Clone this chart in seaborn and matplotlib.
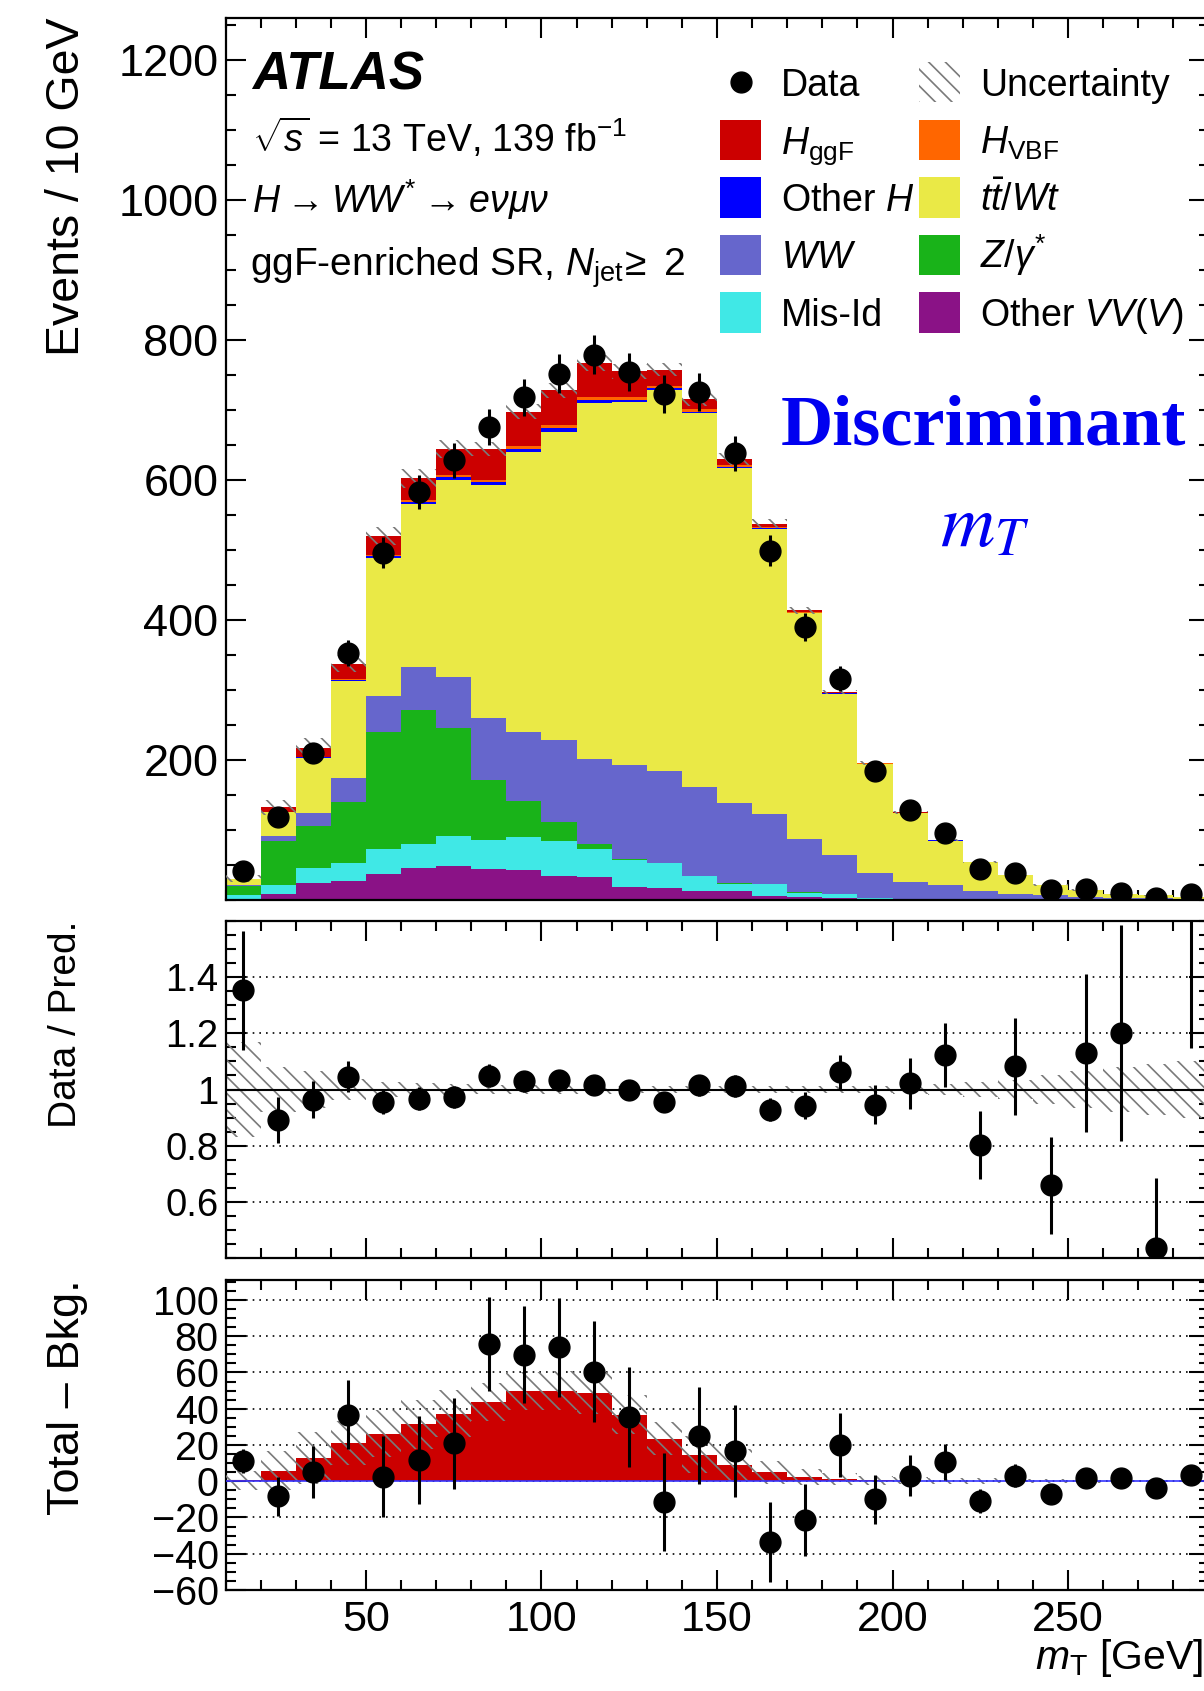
import numpy as np
import pandas as pd
import matplotlib
matplotlib.use("Agg")
import matplotlib.pyplot as plt
from matplotlib.patches import Rectangle
from matplotlib.lines import Line2D
from matplotlib.ticker import MultipleLocator, FixedLocator
import seaborn as sns

# ---------------------------------------------------------------------------
# Binning: m_T in 10 GeV bins from 10 to 290 GeV
# ---------------------------------------------------------------------------
bin_edges = list(range(10, 300, 10))
bin_centers = [e + 5 for e in bin_edges[:-1]]

# Observed events and their statistical uncertainty
data_events = [41, 118, 210, 353, 496, 583, 628, 676, 718, 752, 779, 754, 723, 726,
               638, 499, 390, 316, 185, 128, 96, 44, 39, 14, 16, 10, 3, 8]
data_stat_err = [6.4, 10.9, 14.5, 18.8, 22.3, 24.1, 25.1, 26.0, 26.8, 27.4, 27.9, 27.5,
                 26.9, 26.9, 25.3, 22.3, 19.7, 17.8, 13.6, 11.3, 9.8, 6.6, 6.2, 3.7,
                 4.0, 3.2, 1.7, 2.8]

# Expected yields per process
h_ggf = [0.5, 5.9, 12.9, 21.2, 26.1, 31.3, 37.3, 43.8, 49.6, 50.0, 48.7, 36.8, 23.4, 14.7,
         8.8, 4.9, 2.2, 1.3, 0.5, 0.3, 0.2, 0.15, 0.1, 0.1, 0.05, 0.05, 0.03, 0.03]
h_vbf = [0.1, 0.4, 0.8, 1.5, 2.0, 2.5, 3.0, 3.5, 4.0, 4.5, 4.5, 4.0, 3.5, 3.0,
         2.2, 1.5, 1.0, 0.7, 0.5, 0.3, 0.2, 0.15, 0.1, 0.1, 0.05, 0.05, 0.03, 0.03]
other_h = [0.2, 0.8, 1.5, 2.0, 3.0, 3.5, 4.0, 4.5, 4.5, 4.5, 4.0, 3.5, 3.0, 2.5,
           1.8, 1.2, 0.8, 0.5, 0.3, 0.2, 0.15, 0.1, 0.1, 0.05, 0.05, 0.03, 0.02, 0.02]
top_ttwt = [8.0, 33.2, 78.4, 138.1, 196.5, 232.4, 281.4, 332.5, 398.9, 440.7, 508.7, 518.5,
            544.2, 533.5, 479.3, 407.2, 322.7, 230.7, 155.5, 98.4, 64.0, 42.2, 26.5, 14.4,
            9.5, 5.2, 4.3, 2.9]
ww = [1.5, 7.5, 18.3, 34.1, 51.3, 61.6, 72.8, 88.0, 99.2, 117.5, 121.1, 133.4, 130.7, 127.9,
      114.3, 99.1, 76.2, 54.8, 35.7, 24.0, 19.5, 11.2, 8.5, 6.0, 4.1, 2.7, 2.3, 1.4]
z_gamma = [13.0, 63.6, 59.6, 88.1, 167.4, 191.8, 153.7, 86.0, 51.9, 26.5, 7.1, 2.5, 0.6, 0.3,
           0.2, 0.1, 0.1, 0.05, 0.05, 0.03, 0.02, 0.02, 0.01, 0.01, 0.01, 0.0, 0.0, 0.0]
mis_id = [6.5, 11.7, 21.3, 25.4, 35.6, 33.1, 43.2, 42.2, 46.9, 50.9, 40.7, 38.2, 35.1, 20.4,
          11.2, 17.8, 6.7, 6.2, 1.0, 0.5, 0.4, 0.3, 0.2, 0.2, 0.1, 0.1, 0.05, 0.05]
other_vv = [0.5, 9.2, 25.0, 27.0, 37.7, 46.3, 48.9, 43.8, 42.7, 33.6, 32.6, 18.3, 17.3, 13.2,
            12.2, 5.6, 4.0, 3.0, 2.0, 1.5, 1.0, 0.7, 0.5, 0.4, 0.3, 0.2, 0.15, 0.1]

# Relative uncertainty on the total prediction
pred_rel_unc = [0.17, 0.08, 0.065, 0.036, 0.025, 0.022, 0.02, 0.016, 0.015, 0.015, 0.015,
                0.014, 0.012, 0.014, 0.014, 0.012, 0.011, 0.011, 0.013, 0.016, 0.02, 0.028,
                0.035, 0.05, 0.065, 0.08, 0.09, 0.1]

# Processes, listed from the top of the stack to the bottom
process_keys = ["HggF", "HVBF", "OtherH", "Top", "WW", "Zgamma", "MisId", "OtherVV"]
process_yields = [h_ggf, h_vbf, other_h, top_ttwt, ww, z_gamma, mis_id, other_vv]
process_labels = [r"$H_{\rm ggF}$", r"$H_{\rm VBF}$", r"Other $H$", r"$t\bar{t}/Wt$",
                  r"$WW$", r"$Z/\gamma^{*}$", "Mis-Id", r"Other $VV(V)$"]
process_colors = ["#CC0000", "#FF6600", "#0000FF", "#EAE946",
                  "#6666CC", "#19B319", "#40E8E6", "#8A1286"]

HATCH_GRAY = "#7a7a7a"
TEXT_BLUE = "#0000F0"

# ---------------------------------------------------------------------------
# Style
# ---------------------------------------------------------------------------
sns.set_style("ticks")
plt.rcParams["font.family"] = ["Liberation Sans", "DejaVu Sans"]
plt.rcParams["mathtext.fontset"] = "custom"
plt.rcParams["mathtext.rm"] = "Liberation Sans"
plt.rcParams["mathtext.it"] = "Liberation Sans:italic"
plt.rcParams["mathtext.bf"] = "Liberation Sans:bold"
plt.rcParams["mathtext.sf"] = "Liberation Sans"
plt.rcParams["hatch.linewidth"] = 1.2
plt.rcParams["hatch.color"] = HATCH_GRAY
for key in ("axes.edgecolor", "text.color", "axes.labelcolor", "xtick.color",
            "ytick.color", "xtick.labelcolor", "ytick.labelcolor"):
    plt.rcParams[key] = "black"

W, H = 1204, 1691
fig = plt.figure(figsize=(W / 100, H / 100), dpi=100)


def fx(x):
    return x / W


def fy(y):
    return 1 - y / H


def rect_px(left, top, right, bottom):
    return [left / W, 1 - bottom / H, (right - left) / W, (bottom - top) / H]


ax_main = fig.add_axes(rect_px(225.5, 18, 1208.5, 900))
ax_ratio = fig.add_axes(rect_px(225.5, 921, 1208.5, 1258))
ax_diff = fig.add_axes(rect_px(225.5, 1280, 1208.5, 1590))

# Derived quantities
edges_arr = np.asarray(bin_edges, float)
centers_arr = np.asarray(bin_centers, float)
data_arr = np.asarray(data_events, float)
err_arr = np.asarray(data_stat_err, float)
pred = np.sum([np.asarray(v, float) for v in process_yields], axis=0)
signal = np.asarray(h_ggf, float)
abs_unc = pred * np.asarray(pred_rel_unc)


def step_y(values):
    values = np.asarray(values, float)
    return np.append(values, values[-1])


# ---------------------------------------------------------------------------
# Main panel: stacked prediction, uncertainty band, data
# ---------------------------------------------------------------------------
stack_df = pd.concat(
    [pd.DataFrame({"mT": bin_centers, "events": v, "process": k})
     for k, v in zip(process_keys, process_yields)],
    ignore_index=True,
)
sns.histplot(
    data=stack_df, x="mT", weights="events", hue="process",
    hue_order=process_keys, palette=dict(zip(process_keys, process_colors)),
    multiple="stack", bins=bin_edges, element="step", fill=True,
    alpha=1, linewidth=0, legend=False, ax=ax_main,
)
ax_main.fill_between(edges_arr, step_y(pred - abs_unc), step_y(pred + abs_unc),
                     step="post", facecolor="none", edgecolor=HATCH_GRAY,
                     hatch="\\\\", linewidth=0, zorder=3)
ax_main.errorbar(centers_arr, data_arr, yerr=err_arr, fmt="o", color="black",
                 markersize=15, elinewidth=2.2, capsize=0, zorder=6)

# ---------------------------------------------------------------------------
# Ratio panel
# ---------------------------------------------------------------------------
ratio = data_arr / pred
ratio_err = err_arr / pred
rel = np.asarray(pred_rel_unc)
ax_ratio.fill_between(edges_arr, step_y(1 - rel), step_y(1 + rel), step="post",
                      facecolor="none", edgecolor=HATCH_GRAY, hatch="\\\\",
                      linewidth=0, zorder=2)
ax_ratio.axhline(1.0, color="black", linewidth=1.5, zorder=3)
ax_ratio.errorbar(centers_arr, ratio, yerr=ratio_err, fmt="o", color="black",
                  markersize=15, elinewidth=2.2, capsize=0, zorder=6)

# ---------------------------------------------------------------------------
# Total - background panel
# ---------------------------------------------------------------------------
sns.histplot(x=bin_centers, weights=h_ggf, bins=bin_edges, element="step",
             fill=True, color="#CC0000", alpha=1, linewidth=0, ax=ax_diff)
ax_diff.fill_between(edges_arr, step_y(signal - abs_unc), step_y(signal + abs_unc),
                     step="post", facecolor="none", edgecolor=HATCH_GRAY,
                     hatch="\\\\", linewidth=0, zorder=3)
ax_diff.axhline(0.0, color="#3333FF", linewidth=1.2, zorder=3)
background = pred - signal
ax_diff.errorbar(centers_arr, data_arr - background, yerr=err_arr, fmt="o",
                 color="black", markersize=15, elinewidth=2.2, capsize=0, zorder=6)

# ---------------------------------------------------------------------------
# Axes cosmetics
# ---------------------------------------------------------------------------
for ax in (ax_main, ax_ratio, ax_diff):
    ax.set_xlim(10, 290)
    ax.set_xlabel("")
    ax.set_ylabel("")
    ax.xaxis.set_major_locator(MultipleLocator(50))
    ax.xaxis.set_minor_locator(MultipleLocator(10))
    ax.tick_params(which="both", direction="in", top=True, right=True,
                   width=1.5, color="black", labelcolor="black")
    ax.tick_params(which="major", length=14.5)
    ax.tick_params(which="minor", length=7.5)
    for sp in ax.spines.values():
        sp.set_visible(True)
        sp.set_linewidth(1.6)
        sp.set_color("black")
    ax.set_axisbelow(True)

ax_main.set_ylim(0, 1260)
ax_main.yaxis.set_major_locator(FixedLocator([200, 400, 600, 800, 1000, 1200]))
ax_main.yaxis.set_minor_locator(MultipleLocator(50))
ax_main.tick_params(axis="y", labelsize=32.5, pad=5)
ax_main.tick_params(axis="x", labelbottom=False)

ax_ratio.set_ylim(0.4, 1.6)
ratio_ticks = [0.6, 0.8, 1.0, 1.2, 1.4]
ax_ratio.yaxis.set_major_locator(FixedLocator(ratio_ticks))
ax_ratio.set_yticklabels(["0.6", "0.8", "1", "1.2", "1.4"])
ax_ratio.yaxis.set_minor_locator(MultipleLocator(0.05))
ax_ratio.tick_params(axis="y", labelsize=27.5, pad=5)
ax_ratio.tick_params(axis="x", labelbottom=False)
ax_ratio.yaxis.grid(True, which="major", linestyle=(0, (1, 3)), color="black",
                    linewidth=1.2)

ax_diff.set_ylim(-60, 111)
ax_diff.yaxis.set_major_locator(FixedLocator(list(range(-60, 101, 20))))
ax_diff.yaxis.set_minor_locator(MultipleLocator(5))
ax_diff.tick_params(axis="y", labelsize=28.5, pad=5)
ax_diff.tick_params(axis="x", labelsize=31, pad=7)
ax_diff.yaxis.grid(True, which="major", linestyle=(0, (1, 3)), color="black",
                   linewidth=1.2)

# Axis titles
fig.text(fx(67), fy(18), "Events / 10 GeV", rotation=90, ha="center", va="top",
         fontsize=33.5)
fig.text(fx(66), fy(921), "Data / Pred.", rotation=90, ha="center", va="top",
         fontsize=28)
fig.text(fx(67), fy(1279), "Total \u2013 Bkg.", rotation=90, ha="center", va="top",
         fontsize=32.5)
fig.text(fx(1203), fy(1669), r"$m_{\rm T}$ [GeV]", ha="right", va="baseline",
         fontsize=29.5)

# ---------------------------------------------------------------------------
# Labels in the main panel
# ---------------------------------------------------------------------------
fig.text(fx(252), fy(90), "ATLAS", fontsize=38, fontweight="bold",
         fontstyle="italic", va="baseline")
fig.text(fx(252), fy(152), r"$\sqrt{s}$ = 13 TeV, 139 fb$^{-1}$", fontsize=27,
         va="baseline")
fig.text(fx(252), fy(213),
         r"$H$" + "\u2009\u2192\u2009" + r"$WW^{*}$" + "\u2009\u2192\u2009" + r"$e\nu\mu\nu$",
         fontsize=27, va="baseline")
fig.text(fx(250), fy(276), r"ggF-enriched SR, $N_{\rm jet}\!\geq$ 2", fontsize=28,
         va="baseline")

fig.text(fx(983), fy(445), "Discriminant", family="Liberation Serif",
         fontweight="bold", fontsize=52, color=TEXT_BLUE, ha="center", va="baseline")
fig.text(fx(985), fy(546), r"$m_T$", math_fontfamily="stix", fontsize=54,
         color=TEXT_BLUE, ha="center", va="baseline")

# ---------------------------------------------------------------------------
# Legend (two columns)
# ---------------------------------------------------------------------------
row_y = [82, 140, 197.5, 255, 312.5]
col_handle_x = [720, 919]
col_text_x = [781, 980]
swatch_w, swatch_h = 41, 40
color_of = dict(zip(process_keys, process_colors))
label_of = dict(zip(process_keys, process_labels))
legend_columns = [
    [("data", "Data"), "HggF", "OtherH", "WW", "MisId"],
    [("unc", "Uncertainty"), "HVBF", "Top", "Zgamma", "OtherVV"],
]
for c, entries in enumerate(legend_columns):
    for r, entry in enumerate(entries):
        yc = row_y[r]
        x0 = col_handle_x[c]
        if isinstance(entry, tuple):
            kind, label = entry
            if kind == "data":
                fig.add_artist(Line2D([fx(x0 + swatch_w / 2)], [fy(yc)], marker="o",
                                      markersize=15, color="black", linestyle="none",
                                      transform=fig.transFigure))
            else:
                fig.add_artist(Rectangle((fx(x0), fy(yc + swatch_h / 2)), swatch_w / W,
                                         swatch_h / H, facecolor="none",
                                         edgecolor=HATCH_GRAY, hatch="\\\\",
                                         linewidth=0, transform=fig.transFigure))
        else:
            label = label_of[entry]
            fig.add_artist(Rectangle((fx(x0), fy(yc + swatch_h / 2)), swatch_w / W,
                                     swatch_h / H, facecolor=color_of[entry],
                                     edgecolor="none", transform=fig.transFigure))
        fig.text(fx(col_text_x[c]), fy(yc + 13.5), label, fontsize=27, va="baseline")

fig.savefig("out.png", dpi=100)
